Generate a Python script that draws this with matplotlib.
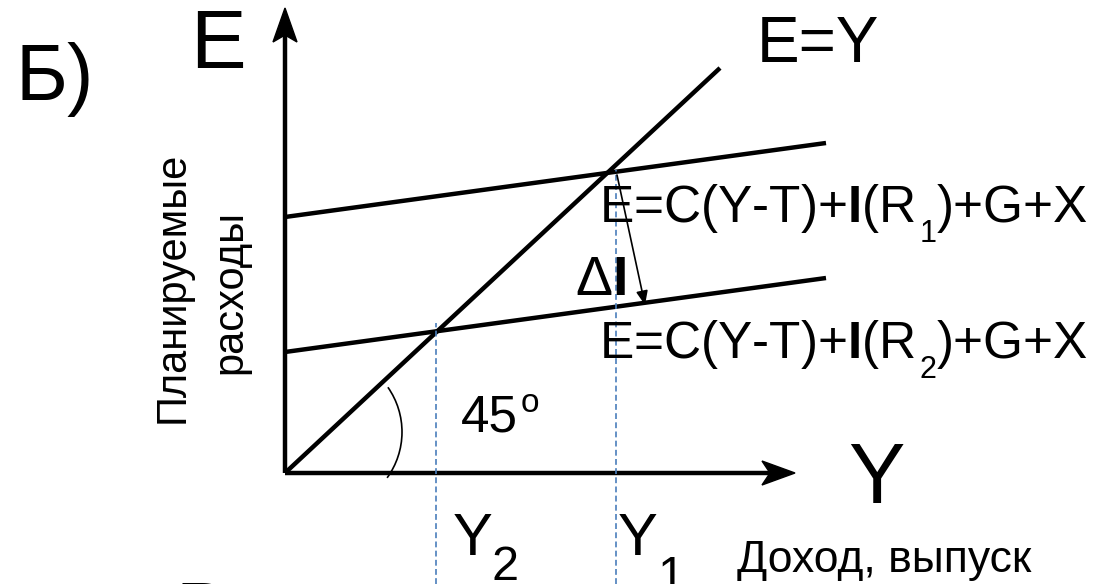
import numpy as np
import matplotlib
matplotlib.use("Agg")
import matplotlib.pyplot as plt
from matplotlib.patches import Arc, Polygon

plt.rcParams['font.family'] = ['Liberation Sans', 'DejaVu Sans']
plt.rcParams['mathtext.fontset'] = 'custom'
plt.rcParams['mathtext.rm'] = 'Liberation Sans'
plt.rcParams['mathtext.it'] = 'Liberation Sans'
plt.rcParams['mathtext.bf'] = 'Liberation Sans:bold'

# Model (units: origin of the diagram at the axes corner)
x_axis_len = 510
y_axis_len = 465
eq_x = [0, 435]          # E = Y line
eq_y = [0, 405]
spend_x = [0, 541]       # planned expenditure lines
spend1_y = [256, 330]    # I(R1)
spend2_y = [121, 195]    # I(R2)
y1_income = 331
y2_income = 151
y1_top = 303
y2_top = 150
shift_start = (332, 298)  # delta I arrow
shift_end = (360, 168)

fig = plt.figure(figsize=(10.96, 5.84), dpi=100)
ax = fig.add_axes([0, 0, 1, 1])
ax.set_xlim(-285, 811)
ax.set_ylim(-111, 473)
ax.axis('off')
renderer = fig.canvas.get_renderer()

lw = 3.2
# axes with arrow heads
ax.plot([0, 0], [0, y_axis_len - 27], color='black', lw=lw, solid_capstyle='butt')
ax.plot([0, x_axis_len - 25], [0, 0], color='black', lw=lw, solid_capstyle='butt')
ax.add_patch(Polygon([[0, y_axis_len], [-12, y_axis_len - 34], [0, y_axis_len - 27],
                      [12, y_axis_len - 34]], closed=True, color='black'))
ax.add_patch(Polygon([[x_axis_len, 0], [x_axis_len - 33, 12], [x_axis_len - 25, 0],
                      [x_axis_len - 33, -12]], closed=True, color='black'))

ax.plot(eq_x, eq_y, color='black', lw=lw, solid_capstyle='butt')
ax.plot(spend_x, spend1_y, color='black', lw=lw, solid_capstyle='butt')
ax.plot(spend_x, spend2_y, color='black', lw=lw, solid_capstyle='butt')

blue = '#4a7ebb'
ax.plot([y1_income, y1_income], [-111, y1_top], color=blue, lw=1.2, dashes=(3.5, 2))
ax.plot([y2_income, y2_income], [-111, y2_top], color=blue, lw=1.2, dashes=(3.5, 2))

ax.annotate('', xy=shift_end, xytext=shift_start,
            arrowprops=dict(arrowstyle='-|>,head_length=0.6,head_width=0.25',
                            mutation_scale=14, color='black', lw=1.2,
                            shrinkA=0, shrinkB=0))

ax.add_patch(Arc((39, 41), 156, 156, theta1=-36, theta2=35, color='black', lw=1.2))


def right_edge(t):
    bb = t.get_window_extent(renderer).transformed(ax.transData.inverted())
    return bb.x1


def formula(x, y, sub):
    t1 = ax.text(x, y, r'E=C(Y-T)+$\mathbf{I}$(R', fontsize=37, ha='left', va='baseline')
    t2 = ax.text(right_edge(t1) + 4, y - 20, sub, fontsize=22, ha='left', va='baseline')
    ax.text(right_edge(t2), y, ')+G+X', fontsize=37, ha='left', va='baseline')


# texts
ax.text(-270, 373, 'Б)', fontsize=57, ha='left', va='baseline')
ax.text(-95, 405, 'E', fontsize=60, ha='left', va='baseline')
ax.text(472, 411, 'E=Y', fontsize=46, ha='left', va='baseline')
formula(314, 251, '1')
formula(314, 115, '2')
ax.text(290, 178, r'Δ$\mathbf{I}$', fontsize=40, ha='left', va='baseline')
ax.text(176, 41, '45', fontsize=37, ha='left', va='baseline')
ax.text(236, 61, 'o', fontsize=24, ha='left', va='baseline')
ax.text(563, -30, 'Y', fontsize=61, ha='left', va='baseline')
ax.text(168, -82, 'Y', fontsize=43, ha='left', va='baseline')
ax.text(207, -107, '2', fontsize=35, ha='left', va='baseline')
ax.text(333, -82, 'Y', fontsize=43, ha='left', va='baseline')
ax.text(372, -117, '1', fontsize=35, ha='left', va='baseline')
ax.text(452, -99, 'Доход, выпуск', fontsize=32, ha='left', va='baseline')
ax.text(-101, 186, 'Планируемые', fontsize=30, rotation=90, rotation_mode='anchor',
        ha='center', va='baseline')
ax.text(-44, 181, 'расходы', fontsize=30, rotation=90, rotation_mode='anchor',
        ha='center', va='baseline')
ax.text(-110, -165, 'В', fontsize=57, ha='left', va='baseline')

fig.savefig('out.png', dpi=100)
